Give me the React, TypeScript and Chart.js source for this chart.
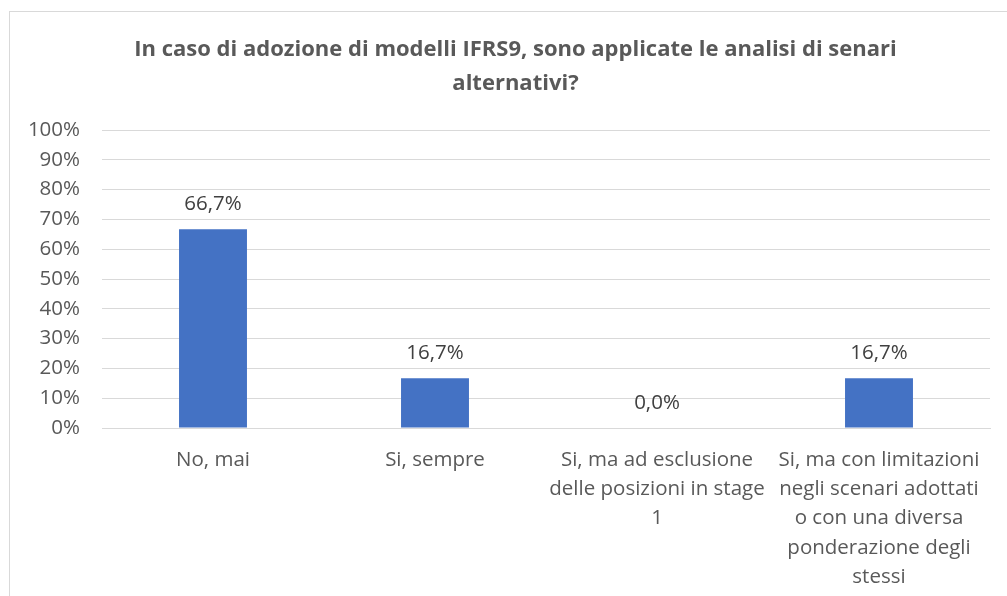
import React, { useEffect, useRef } from "react";
import { Chart, registerables } from "chart.js";

Chart.register(...registerables);

const titleLines = [
  "In caso di adozione di modelli IFRS9, sono applicate le analisi di senari",
  "alternativi?",
];
const categories: string[][] = [
  ["No, mai"],
  ["Si, sempre"],
  ["Si, ma ad esclusione", "delle posizioni in stage", "1"],
  ["Si, ma con limitazioni", "negli scenari adottati", "o con una diversa", "ponderazione degli", "stessi"],
];
const values = [66.7, 16.7, 0.0, 16.7];
const yTicks = [0, 10, 20, 30, 40, 50, 60, 70, 80, 90, 100];

const TEXT = "#595959";
const FONT = "'Open Sans', 'Noto Sans', sans-serif";
const FS = 20.5;

const dataLabels = {
  id: "dataLabels",
  afterDatasetsDraw(chart: any) {
    const ctx = chart.ctx;
    const meta = chart.getDatasetMeta(0);
    ctx.save();
    ctx.font = `${FS}px ${FONT}`;
    ctx.fillStyle = "#404040";
    ctx.textAlign = "center";
    ctx.textBaseline = "middle";
    meta.data.forEach((bar: any, i: number) => {
      const v = values[i];
      ctx.fillText(v.toFixed(1).replace(".", ",") + "%", bar.x, bar.y - 25);
    });
    ctx.restore();
  },
};

const centeredTitle = {
  id: "centeredTitle",
  afterDraw(chart: any) {
    const ctx = chart.ctx;
    ctx.save();
    ctx.font = `bold 22px ${FONT}`;
    ctx.fillStyle = TEXT;
    ctx.textAlign = "center";
    ctx.textBaseline = "middle";
    const cx = chart.width / 2;
    titleLines.forEach((line, i) => {
      ctx.fillText(line, cx, 39 + i * 34);
    });
    ctx.restore();
  },
};

export default function App() {
  const ref = useRef<HTMLCanvasElement>(null);
  useEffect(() => {
    if (!ref.current) return;
    const chart = new Chart(ref.current, {
      type: "bar",
      data: {
        labels: categories,
        datasets: [
          {
            data: values,
            backgroundColor: "#4472C4",
            barPercentage: 1,
            categoryPercentage: 0.306,
          },
        ],
      },
      options: {
        animation: false,
        responsive: false,
        layout: { padding: { left: 0, right: 32, top: 119, bottom: 0 } },
        plugins: {
          legend: { display: false },
          tooltip: { enabled: false },
          title: { display: false },
        },
        scales: {
          x: {
            grid: { display: false, drawTicks: false },
            border: { display: true, color: "#d9d9d9", width: 1 },
            ticks: {
              color: TEXT,
              font: { family: FONT, size: FS, lineHeight: 29.4 / FS },
              padding: 17,
              maxRotation: 0,
              autoSkip: false,
            },
            afterFit: (s: any) => {
              s.height = 173;
            },
          },
          y: {
            min: 0,
            max: 100,
            afterBuildTicks: (s: any) => {
              s.ticks = yTicks.map((v) => ({ value: v }));
            },
            grid: { color: "#d9d9d9", drawTicks: false, lineWidth: 1 },
            border: { display: false },
            ticks: {
              color: TEXT,
              font: { family: FONT, size: FS },
              padding: 22,
              callback: (v: any) => v + "%",
            },
            afterFit: (s: any) => {
              s.width = 93;
            },
          },
        },
      },
      plugins: [dataLabels, centeredTitle],
    });
    return () => chart.destroy();
  }, []);

  return (
    <div style={{ position: "fixed", left: 0, top: 0, width: 1007, height: 596, overflow: "hidden", background: "#fff" }}>
      <div
        style={{
          position: "absolute",
          left: 9,
          top: 11,
          width: 1013,
          height: 600,
          border: "1px solid #d9d9d9",
          boxSizing: "border-box",
        }}
      />
      <canvas
        ref={ref}
        width={1013}
        height={590}
        style={{ position: "absolute", left: 9, top: 11, width: 1013, height: 590 }}
      />
    </div>
  );
}
